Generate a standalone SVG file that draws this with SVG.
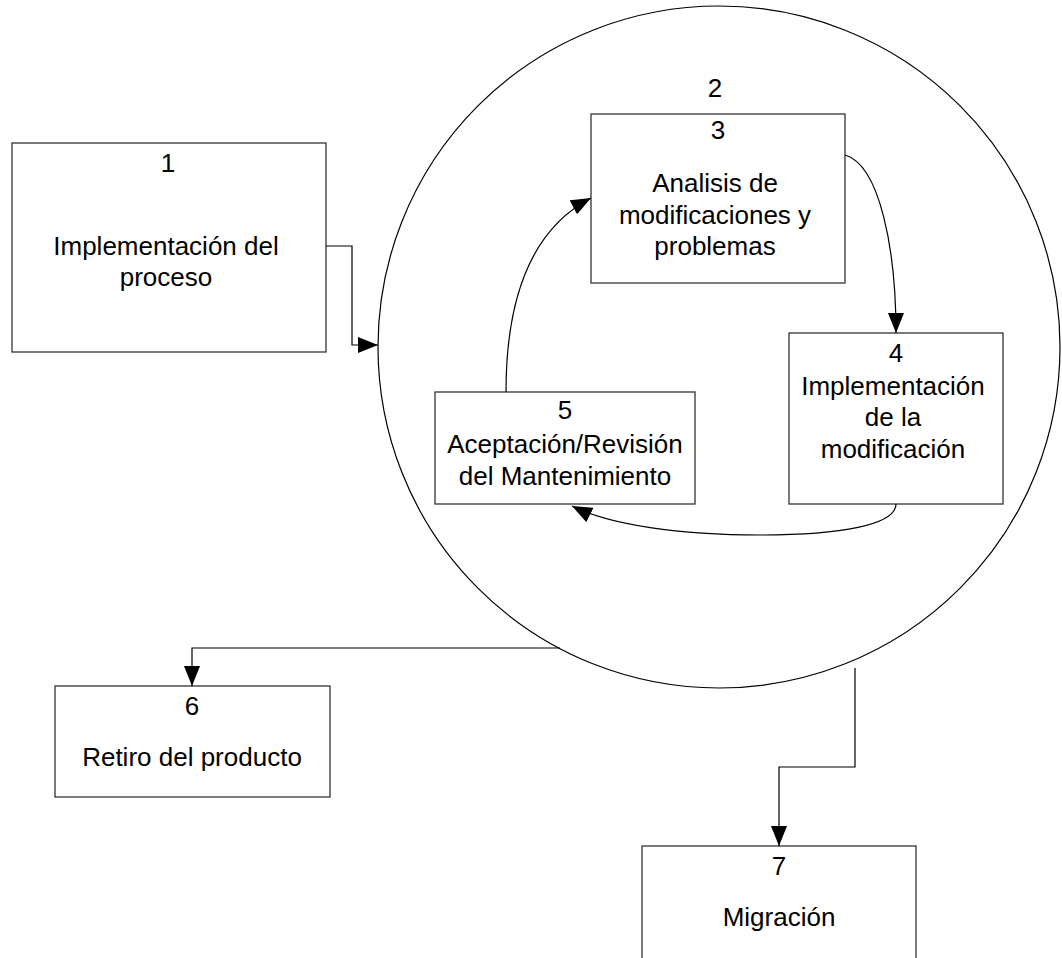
<svg xmlns="http://www.w3.org/2000/svg" width="1062" height="958" viewBox="0 0 1062 958">
<style>
.box{fill:#fff;stroke:#333;stroke-width:1.3}
.t{font-family:"Liberation Sans",Arial,sans-serif;font-size:26px;fill:#000;text-anchor:middle}
.c{fill:none;stroke:#000;stroke-width:1.2}
</style>
<defs>
<marker id="ah" viewBox="0 0 20 16" refX="20" refY="8" markerWidth="20" markerHeight="16" markerUnits="userSpaceOnUse" orient="auto">
<path d="M0,0 L20,8 L0,16 Z" fill="#000"/>
</marker>
</defs>
<rect width="1062" height="958" fill="#fff"/>
<g id="node2">
<circle cx="719" cy="347" r="341" fill="#fff" stroke="#000" stroke-width="1.2"/>
<text class="t" x="715" y="97">2</text>
</g>
<g id="node1">
<rect class="box" x="12" y="143" width="314" height="209"/>
<text class="t" x="168" y="172">1</text>
<text class="t" x="166" y="255">Implementación del</text>
<text class="t" x="166" y="286">proceso</text>
</g>
<g id="node3">
<rect class="box" x="591" y="114" width="254" height="169"/>
<text class="t" x="718" y="139">3</text>
<text class="t" x="715" y="192">Analisis de</text>
<text class="t" x="715" y="224">modificaciones y</text>
<text class="t" x="715" y="255">problemas</text>
</g>
<g id="node4">
<rect class="box" x="789" y="333" width="214" height="171"/>
<text class="t" x="896" y="362">4</text>
<text class="t" x="893" y="395">Implementación</text>
<text class="t" x="893" y="426">de la</text>
<text class="t" x="893" y="458">modificación</text>
</g>
<g id="node5">
<rect class="box" x="435" y="392" width="260" height="112"/>
<text class="t" x="565" y="419">5</text>
<text class="t" x="565" y="453">Aceptación/Revisión</text>
<text class="t" x="565" y="485">del Mantenimiento</text>
</g>
<g id="node6">
<rect class="box" x="55" y="686" width="275" height="111"/>
<text class="t" x="192" y="715">6</text>
<text class="t" x="192" y="766">Retiro del producto</text>
</g>
<g id="node7">
<rect class="box" x="642" y="846" width="274" height="130"/>
<text class="t" x="779" y="875">7</text>
<text class="t" x="779" y="926">Migración</text>
</g>
<g id="connectors">
<path class="c" d="M326,246 H352 V345 H378" marker-end="url(#ah)"/>
<path class="c" d="M506,392 C506,300 530,230 591,198" marker-end="url(#ah)"/>
<path class="c" d="M845,155 C880,165 896,250 896,333" marker-end="url(#ah)"/>
<path class="c" d="M896,504 C896,525 840,535 760,535 C680,535 610,525 572,506" marker-end="url(#ah)"/>
<path class="c" d="M560,648 H192 V686" marker-end="url(#ah)"/>
<path class="c" d="M855,668 V767 H779 V846" marker-end="url(#ah)"/>
</g>
</svg>
